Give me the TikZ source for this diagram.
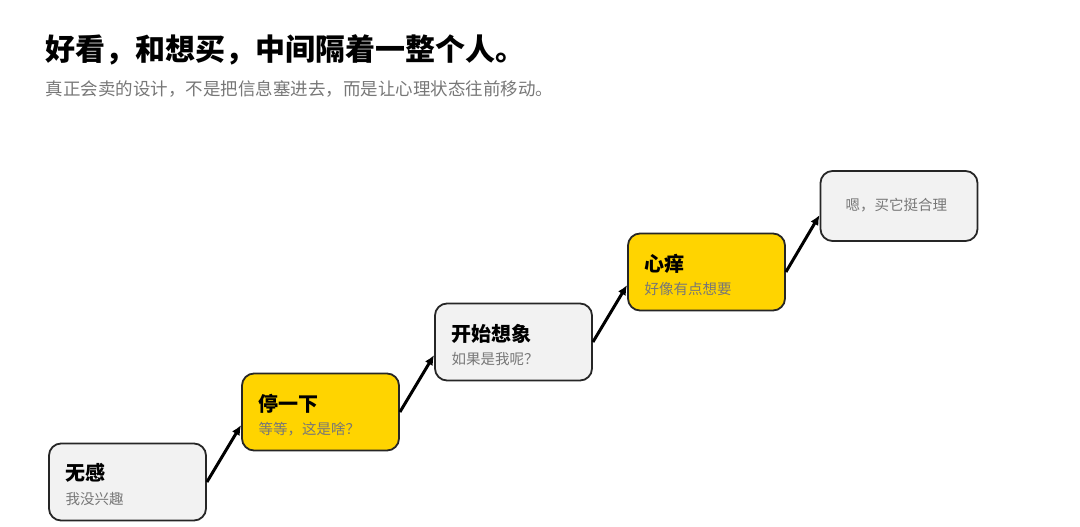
\documentclass[tikz,border=0pt]{standalone}
\usepackage{fontspec}
\setmainfont{Noto Sans CJK SC}
\usetikzlibrary{arrows.meta}
\definecolor{boxgray}{HTML}{F2F2F2}
\definecolor{boxyel}{HTML}{FFD400}
\definecolor{subgray}{HTML}{777777}
\tikzset{
  stage/.style={draw=black!85,line width=1.8pt,rounded corners=12pt,minimum width=157pt,minimum height=77pt},
  head/.style={anchor=west,font=\fontsize{20}{20}\selectfont\bfseries},
  sub/.style={anchor=west,text=subgray,font=\fontsize{14.5}{14.5}\selectfont},
  link/.style={line width=3pt,-{Latex[length=10pt,width=9pt]}}
}
\begin{document}
	\begin{tikzpicture}[x=1pt,y=-1pt]
		\useasboundingbox (0,0) rectangle (1080,527);
		\node[anchor=west,font=\fontsize{30}{30}\selectfont\bfseries] (title) at (42,50) {好看，和想买，中间隔着一整个人。};
		\node[anchor=west,text=subgray,font=\fontsize{17.5}{17.5}\selectfont] (subtitle) at (42,89) {真正会卖的设计，不是把信息塞进去，而是让心理状态往前移动。};
		% stages
		\node[stage,fill=boxgray] (s1) at (127.5,482) {};
		\node[stage,fill=boxyel] (s2) at (320.5,412) {};
		\node[stage,fill=boxgray] (s3) at (513.5,342) {};
		\node[stage,fill=boxyel] (s4) at (706.5,272) {};
		\node[stage,fill=boxgray,minimum height=70pt] (s5) at (899,206) {};
		\node[head] (h1) at (62,473) {无感};
		\node[sub] (t1) at (62,499) {我没兴趣};
		\node[head] (h2) at (255,404) {停一下};
		\node[sub] (t2) at (255,429) {等等，这是啥？};
		\node[head] (h3) at (448,334) {开始想象};
		\node[sub] (t3) at (448,359) {如果是我呢？};
		\node[head] (h4) at (641,264) {心痒};
		\node[sub] (t4) at (641,289) {好像有点想要};
		\node[sub] (t5) at (842,205) {嗯，买它挺合理};
		% links
		\draw[link] (s1.east) -- ([yshift=-13]s2.west);
		\draw[link] (s2.east) -- ([yshift=-13]s3.west);
		\draw[link] (s3.east) -- ([yshift=-13]s4.west);
		\draw[link] (s4.east) -- ([yshift=-9]s5.west);
	\end{tikzpicture}
\end{document}
